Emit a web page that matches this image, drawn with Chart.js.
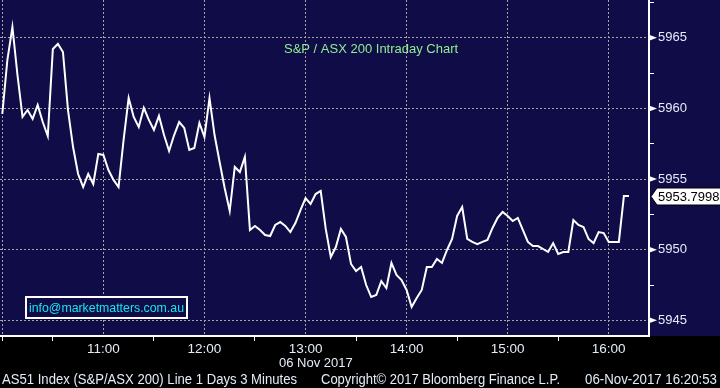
<!DOCTYPE html>
<html>
<head>
<meta charset="utf-8">
<script src="https://cdn.jsdelivr.net/npm/chart.js@4.4.1/dist/chart.umd.min.js"></script>
<style>
  html, body { margin:0; padding:0; background:#000; }
  canvas { display:block; }
</style>
</head>
<body>
<canvas id="intraday" width="720" height="388"></canvas>
<script>
// 3 minute bars, S&P/ASX 200, 06 Nov 2017
const TIMES = [
  "10:00","10:03","10:06","10:09","10:12","10:15","10:18","10:21","10:24","10:27",
  "10:30","10:33","10:36","10:39","10:42","10:45","10:48","10:51","10:54","10:57",
  "11:00","11:03","11:06","11:09","11:12","11:15","11:18","11:21","11:24","11:27",
  "11:30","11:33","11:36","11:39","11:42","11:45","11:48","11:51","11:54","11:57",
  "12:00","12:03","12:06","12:09","12:12","12:15","12:18","12:21","12:24","12:27",
  "12:30","12:33","12:36","12:39","12:42","12:45","12:48","12:51","12:54","12:57",
  "13:00","13:03","13:06","13:09","13:12","13:15","13:18","13:21","13:24","13:27",
  "13:30","13:33","13:36","13:39","13:42","13:45","13:48","13:51","13:54","13:57",
  "14:00","14:03","14:06","14:09","14:12","14:15","14:18","14:21","14:24","14:27",
  "14:30","14:33","14:36","14:39","14:42","14:45","14:48","14:51","14:54","14:57",
  "15:00","15:03","15:06","15:09","15:12","15:15","15:18","15:21","15:24","15:27",
  "15:30","15:33","15:36","15:39","15:42","15:45","15:48","15:51","15:54","15:57",
  "16:00","16:03","16:06","16:09","16:12"
];

const PRICES = [
  5959.61, 5963.43, 5965.77, 5962.37, 5959.40, 5959.89, 5959.26, 5960.25, 5959.04, 5958.05,
  5964.21, 5964.57, 5964.00, 5959.89, 5957.27, 5955.36, 5954.44, 5955.36, 5954.65, 5956.78,
  5956.71, 5955.64, 5954.94, 5954.44, 5957.77, 5960.74, 5959.40, 5958.69, 5960.04, 5959.19,
  5958.48, 5959.47, 5958.12, 5956.99, 5958.12, 5959.04, 5958.62, 5957.06, 5957.20, 5958.97,
  5957.98, 5960.74, 5958.12, 5956.21, 5954.37, 5952.74, 5955.86, 5955.50, 5956.57, 5951.40,
  5951.68, 5951.40, 5951.04, 5950.97, 5951.75, 5951.96, 5951.68, 5951.25, 5951.89, 5952.81,
  5953.66, 5953.24, 5953.94, 5954.16, 5951.47, 5949.48, 5950.19, 5951.47, 5950.90, 5948.99,
  5948.49, 5948.77, 5947.50, 5946.65, 5946.79, 5947.78, 5947.29, 5949.06, 5948.21, 5947.85,
  5947.15, 5945.94, 5946.58, 5947.15, 5948.77, 5948.77, 5949.34, 5949.06, 5949.98, 5950.76,
  5952.39, 5953.02, 5950.76, 5950.55, 5950.40, 5950.55, 5950.69, 5951.54, 5952.25, 5952.67,
  5952.39, 5952.03, 5952.25, 5951.40, 5950.55, 5950.26, 5950.26, 5950.05, 5949.84, 5950.47,
  5949.70, 5949.84, 5949.84, 5952.10, 5951.75, 5951.61, 5950.76, 5950.47, 5951.25, 5951.18,
  5950.55, 5950.55, 5950.55, 5953.7998, 5953.7998
];

const HOUR_LABELS = ["11:00","12:00","13:00","14:00","15:00","16:00"];
const Y_MAJOR = [5945, 5950, 5955, 5960, 5965];

const TITLE = "S&P / ASX 200 Intraday Chart";
const EMAIL = "info@marketmatters.com.au";
const DATE_LABEL = "06 Nov 2017";
const FOOTER_LEFT = "AS51 Index (S&P/ASX 200) Line 1 Days 3 Minutes";
const FOOTER_MID = "Copyright\u00a9 2017 Bloomberg Finance L.P.";
const FOOTER_RIGHT = "06-Nov-2017 16:20:53";

const NAVY = "#100c48";
const GRID = "#a8a59c";
const TXT = "#e4ecf8";

const toMin = (s) => { const [h, m] = s.split(":").map(Number); return h * 60 + m; };
const toClock = (v) => {
  const h = Math.floor(v / 60), m = Math.round(v % 60);
  return String(h).padStart(2, "0") + ":" + String(m).padStart(2, "0");
};

const points = TIMES.map((t, i) => ({ x: toMin(t), y: PRICES[i] }));

const backdrop = {
  id: "backdrop",
  beforeDraw(chart) {
    const { ctx, width, height, chartArea } = chart;
    ctx.save();
    ctx.fillStyle = "#000";
    ctx.fillRect(0, 0, width, height);
    ctx.fillStyle = NAVY;
    ctx.fillRect(0, 0, width, chartArea.bottom);
    ctx.restore();
  }
};

const decorations = {
  id: "decorations",
  afterDraw(chart) {
    const { ctx, chartArea } = chart;
    const ys = chart.scales.y;
    ctx.save();

    // flag markers on the price axis
    ctx.fillStyle = "#fff";
    Y_MAJOR.forEach(v => {
      const py = ys.getPixelForValue(v);
      ctx.beginPath();
      ctx.moveTo(chartArea.right, py - 3);
      ctx.lineTo(chartArea.right + 8, py);
      ctx.lineTo(chartArea.right, py + 3);
      ctx.closePath();
      ctx.fill();
    });

    // last price tag
    const last = PRICES[PRICES.length - 1];
    const ly = Math.round(ys.getPixelForValue(last)) + 0.5;
    ctx.beginPath();
    ctx.moveTo(chartArea.right + 2, ly);
    ctx.lineTo(chartArea.right + 8, ly - 8.5);
    ctx.lineTo(722, ly - 8.5);
    ctx.lineTo(722, ly + 8.5);
    ctx.lineTo(chartArea.right + 8, ly + 8.5);
    ctx.closePath();
    ctx.fillStyle = "#fff";
    ctx.fill();
    ctx.strokeStyle = "#000";
    ctx.lineWidth = 1;
    ctx.stroke();
    ctx.fillStyle = "#000";
    ctx.font = "13px 'Liberation Sans', Arial, sans-serif";
    ctx.textBaseline = "middle";
    ctx.textAlign = "left";
    ctx.fillText(last.toFixed(4), chartArea.right + 9, ly + 1);

    // title
    ctx.fillStyle = "#90ee90";
    ctx.font = "13px 'Liberation Sans', Arial, sans-serif";
    ctx.fillText(TITLE, 284, 49);

    // email box
    ctx.fillStyle = NAVY;
    ctx.fillRect(26, 297, 161, 21);
    ctx.strokeStyle = "#fff";
    ctx.lineWidth = 2;
    ctx.strokeRect(26, 297, 161, 21);
    ctx.fillStyle = "#18e4ee";
    ctx.font = "13px 'Liberation Sans', Arial, sans-serif";
    ctx.fillText(EMAIL, 29, 308, 155);

    // bottom texts
    ctx.fillStyle = TXT;
    ctx.font = "13px 'Liberation Sans', Arial, sans-serif";
    ctx.fillText(DATE_LABEL, 279, 363);
    ctx.font = "14px 'Liberation Sans', Arial, sans-serif";
    ctx.fillText(FOOTER_LEFT, 2, 380, 295);
    ctx.fillText(FOOTER_MID, 321, 380, 239);
    ctx.fillText(FOOTER_RIGHT, 585, 380, 132);
    ctx.restore();
  }
};

new Chart(document.getElementById("intraday"), {
  type: "line",
  data: {
    datasets: [{
      data: points,
      borderColor: "#fff",
      borderWidth: 2,
      pointRadius: 0,
      tension: 0,
      fill: false
    }]
  },
  options: {
    responsive: false,
    animation: false,
    devicePixelRatio: 1,
    layout: { padding: 0 },
    plugins: { legend: { display: false }, tooltip: { enabled: false } },
    scales: {
      x: {
        type: "linear",
        min: 598.63,
        max: 983.9,
        grid: {
          color: (c) => (c.tick && c.tick.value % 60 === 0) ? GRID : "rgba(0,0,0,0)",
          lineWidth: 1,
          tickLength: 5,
          tickColor: (c) => (c.tick && (c.tick.value % 60 === 30 || c.tick.value === 600)) ? "#fff" : "rgba(0,0,0,0)",
          tickBorderDash: [1, 0]
        },
        border: { display: true, color: "#fff", width: 2, dash: [2, 2] },
        ticks: {
          stepSize: 30,
          includeBounds: false,
          autoSkip: false,
          maxRotation: 0,
          padding: 0,
          color: TXT,
          font: { family: "'Liberation Sans', Arial, sans-serif", size: 13.5 },
          callback: (v) => HOUR_LABELS.includes(toClock(v)) ? toClock(v) : ""
        },
        afterFit: (s) => { s.height = 52; s.paddingLeft = 0; s.paddingRight = 0; }
      },
      y: {
        position: "right",
        min: 5943.89,
        max: 5967.68,
        grid: {
          color: (c) => (c.tick && Y_MAJOR.includes(c.tick.value)) ? GRID : "rgba(0,0,0,0)",
          lineWidth: 1,
          tickLength: 5,
          tickColor: "#fff",
          tickBorderDash: [1, 0]
        },
        border: { display: true, color: "#fff", width: 2, dash: [2, 2] },
        ticks: {
          stepSize: 2.5,
          includeBounds: false,
          padding: 4,
          color: TXT,
          font: { family: "'Liberation Sans', Arial, sans-serif", size: 13 },
          callback: (v) => Y_MAJOR.includes(v) ? String(v) : ""
        },
        afterFit: (s) => { s.width = 71; s.paddingTop = 0; s.paddingBottom = 0; }
      }
    }
  },
  plugins: [backdrop, decorations]
});
</script>
</body>
</html>
